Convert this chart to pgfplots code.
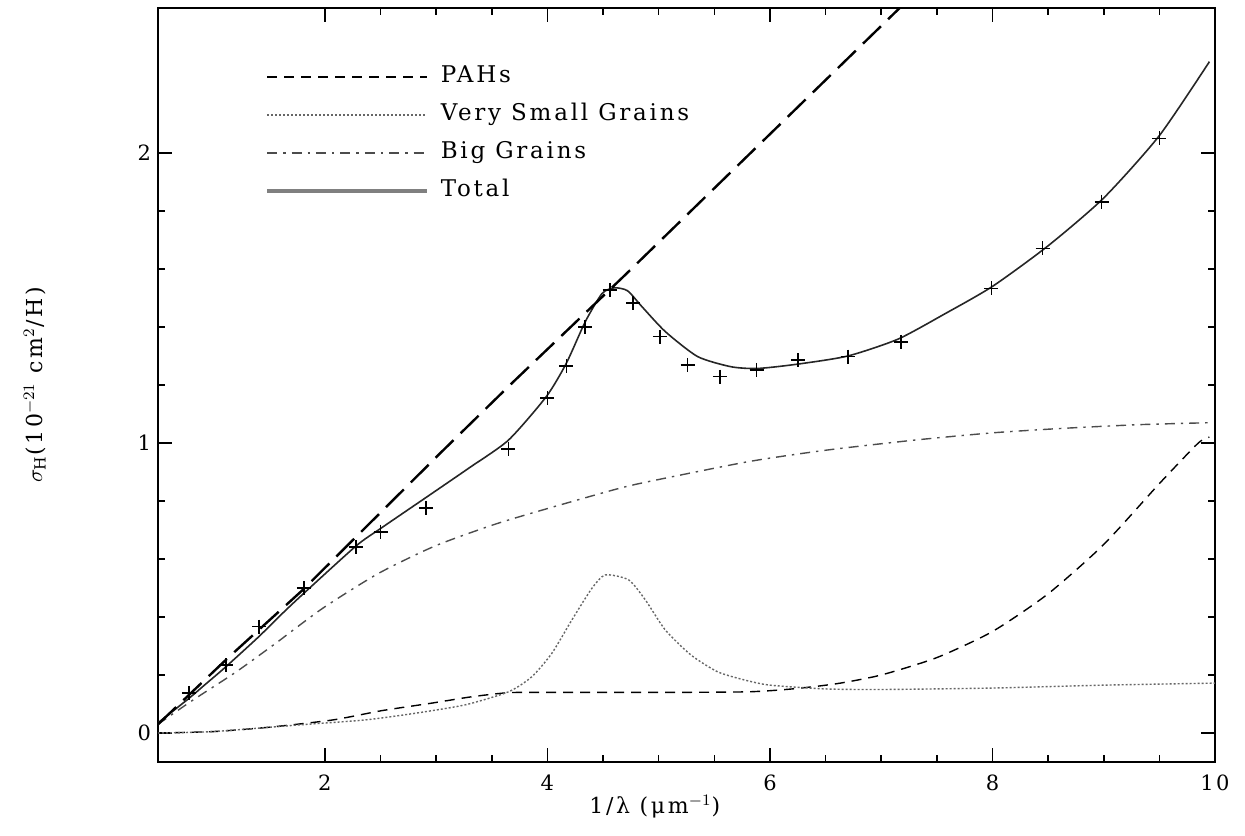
\documentclass[border=0pt]{standalone}
\usepackage{fontspec}
\setmainfont{DejaVu Serif}[LetterSpace=12]
\usepackage{pgfplots}
\pgfplotsset{compat=1.18}

\begin{document}
\begin{tikzpicture}
\begin{axis}[
    scale only axis,
    width=528.5pt, height=377pt,
    xmin=0.5, xmax=10, ymin=-0.1, ymax=2.5,
    xtick={2,4,6,8,10}, ytick={0,1,2},
    minor x tick num=3, minor y tick num=4,
    tick align=inside, xtick pos=both, ytick pos=both,
    xticklabel pos=lower, yticklabel pos=left,
    major tick length=7pt, minor tick length=3.5pt,
    axis line style={line width=1pt},
    every tick/.style={black, line width=0.8pt},
    /pgf/number format/assume math mode=true,
    tick label style={font=\fontsize{10.5}{12}\selectfont},
    xticklabel style={yshift=-3pt},
    xlabel={1/λ (μm$^{-1}$)},
    ylabel={$\sigma_{\mathrm{H}}$(10$^{-21}$ cm$^{2}$/H)},
    label style={font=\fontsize{11}{13}\selectfont},
    xlabel style={at={(axis description cs:0.47,-0.035)}, anchor=north},
    ylabel style={at={(axis description cs:-0.1166,0.5)}, anchor=center},
    legend cell align=left,
    legend style={draw=none, fill=none, at={(axis description cs:0.1014,0.925)},
        anchor=north west, inner sep=0pt, row sep=7pt, column sep=6pt,
        font=\fontsize{11.5}{13}\selectfont,
        nodes={inner sep=0pt, text height=9pt, text depth=3pt}},
    legend image code/.code={\draw[#1] (0pt,0pt) -- (80pt,0pt);},
]

% PAHs
\addplot[black, line width=0.7pt, dash pattern=on 5pt off 3.5pt, smooth, tension=0.4] coordinates {
    (0.5,0.0) (1.0,0.005) (1.5,0.02) (2.07,0.045) (2.51,0.077) (2.96,0.103)
    (3.32,0.125) (3.65,0.139) (4.0,0.14) (5.0,0.14) (5.8,0.142) (6.2,0.152)
    (6.6,0.17) (7.0,0.2) (7.5,0.26) (8.0,0.35) (8.5,0.48) (9.0,0.65)
    (9.5,0.86) (9.85,1.0) (9.95,1.02)
};
\addlegendentry{PAHs}

% Very small grains
\addplot[black!60, line width=0.7pt, dash pattern=on 1pt off 1pt, smooth, tension=0.4] coordinates {
    (0.5,0.0) (1.0,0.005) (1.77,0.028) (2.36,0.045) (2.81,0.068) (3.26,0.097)
    (3.65,0.142) (3.86,0.194) (4.04,0.275) (4.22,0.39) (4.40,0.499) (4.52,0.545)
    (4.73,0.528) (4.88,0.459) (5.06,0.355) (5.29,0.269) (5.53,0.211) (5.77,0.183)
    (6.0,0.165) (6.5,0.152) (7.0,0.15) (8.0,0.155) (9.0,0.165) (10.0,0.172)
};
\addlegendentry{Very Small Grains}

% Big grains
\addplot[black!70, line width=0.7pt, dash pattern=on 5pt off 3pt on 1.2pt off 3pt, smooth, tension=0.4] coordinates {
    (0.5,0.03) (0.8,0.11) (1.2,0.21) (1.56,0.31) (1.98,0.43) (2.48,0.55)
    (2.99,0.645) (3.53,0.72) (4.01,0.775) (4.61,0.84) (4.91,0.867) (5.81,0.936)
    (6.5,0.975) (7.3,1.01) (8.0,1.035) (8.61,1.05) (9.3,1.063) (9.95,1.07)
};
\addlegendentry{Big Grains}

% Total
\addplot[black!85, line width=0.8pt, smooth, tension=0.4,
    legend image code/.code={\draw[black!50, line width=1.6pt] (0pt,0pt) -- (80pt,0pt);}] coordinates {
    (0.5,0.035) (0.78,0.12) (0.92,0.166) (1.1,0.225) (1.4,0.33) (1.62,0.413)
    (1.8,0.478) (2.28,0.645) (2.5,0.705) (2.92,0.815) (3.3,0.915) (3.65,1.01)
    (3.99,1.16) (4.17,1.275) (4.34,1.418) (4.49,1.515) (4.6,1.535) (4.72,1.525)
    (4.85,1.47) (5.06,1.384) (5.35,1.298) (5.65,1.263) (5.89,1.257) (6.25,1.272)
    (6.7,1.3) (7.15,1.358) (7.57,1.445) (8.0,1.54) (8.5,1.68) (9.0,1.845)
    (9.5,2.06) (9.95,2.315)
};
\addlegendentry{Total}

% long-dashed line
\addplot[black, line width=1.2pt, dash pattern=on 12.5pt off 5pt, forget plot] coordinates {
    (0.5,0.03) (1.14,0.263) (1.8,0.493) (3.05,0.97) (3.68,1.206) (4.7,1.58) (7.3,2.55)
};

% observed points
\addplot[only marks, mark=+, mark size=3.5pt, black, line width=0.8pt, forget plot] coordinates {
    (0.78,0.138) (1.11,0.234) (1.41,0.367) (1.81,0.5) (2.28,0.642) (2.5,0.694)
    (2.91,0.776) (3.65,0.98) (4.0,1.155) (4.17,1.266) (4.34,1.401) (4.56,1.528)
    (4.77,1.482) (5.01,1.367) (5.26,1.269) (5.55,1.229) (5.88,1.252) (6.25,1.286)
    (6.7,1.298) (7.18,1.349) (7.99,1.533) (8.45,1.671) (8.98,1.832) (9.5,2.05)
};
\end{axis}
\pgfresetboundingbox
\useasboundingbox (-79pt,-36.5pt) rectangle (543.5pt,381pt);
\end{tikzpicture}
\end{document}
